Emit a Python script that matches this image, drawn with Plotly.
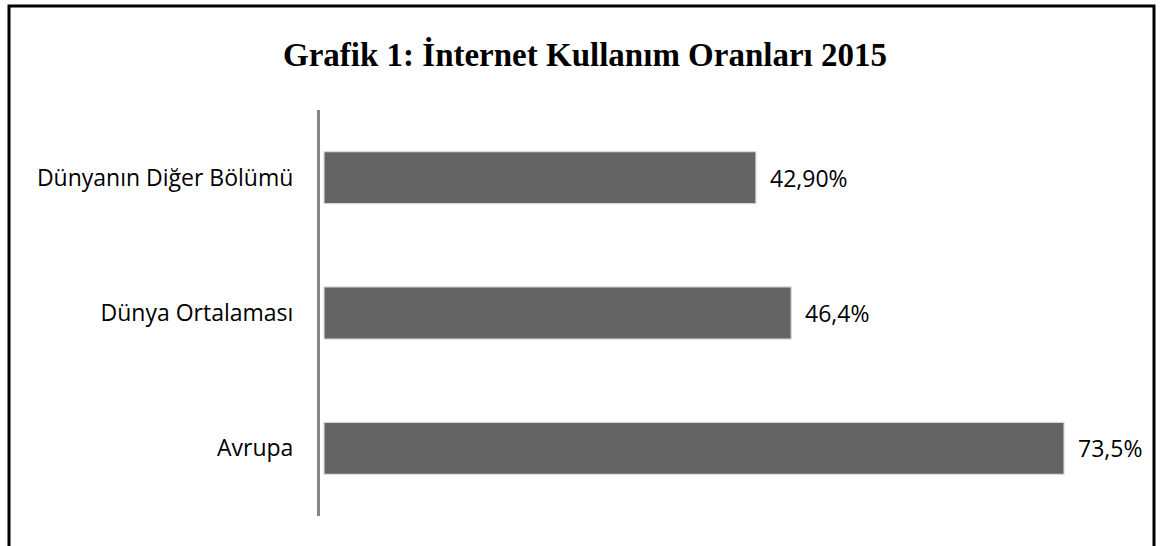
import plotly.graph_objects as go

categories = ["Avrupa", "Dünya Ortalaması", "Dünyanın Diğer Bölümü"]
values = [73.5, 46.4, 42.9]
labels = ["73,5%", "46,4%", "42,90%"]
title = "Grafik 1: İnternet Kullanım Oranları 2015"

W, H = 1165, 546
L, R, T, B = 320, 1100, 110, 516  # plot area in pixels

def px_x(p):
    return (p - L) / (R - L)

def px_y(p):
    return (B - p) / (B - T)

fig = go.Figure()
fig.add_trace(go.Bar(
    y=categories, x=values, orientation="h",
    marker=dict(color="#646464", line=dict(color="#d9d9d9", width=1.2)),
    width=0.385, hoverinfo="skip",
))

for c, v, t in zip(categories, values, labels):
    fig.add_annotation(x=v, y=c, text=t, xanchor="left", yanchor="middle",
                       xshift=12, showarrow=False,
                       font=dict(family="Open Sans", size=23, color="#000000"))

# outer frame
fig.add_shape(type="rect", xref="paper", yref="paper",
              x0=px_x(9), x1=px_x(1154), y0=px_y(560), y1=px_y(6),
              line=dict(color="#000000", width=3), layer="above")

fig.update_layout(
    width=W, height=H,
    margin=dict(l=L, r=W - R, t=T, b=H - B, pad=0),
    paper_bgcolor="white", plot_bgcolor="white",
    showlegend=False,
    title=dict(text="<b>" + title + "</b>", x=px_x(585), xref="paper", xanchor="center",
               y=1 - 54 / H, yanchor="middle",
               font=dict(family="Liberation Serif", size=33, color="#000000")),
    xaxis=dict(range=[-0.397, 77.07], showgrid=False, zeroline=False,
               showticklabels=False, showline=False, fixedrange=True),
    yaxis=dict(range=[-0.5, 2.5], showgrid=False, zeroline=False,
               showline=True, linecolor="#868686", linewidth=3,
               ticks="", ticklabelstandoff=19,
               tickfont=dict(family="Open Sans", size=23, color="#000000")),
)

fig.write_html("out.html")
